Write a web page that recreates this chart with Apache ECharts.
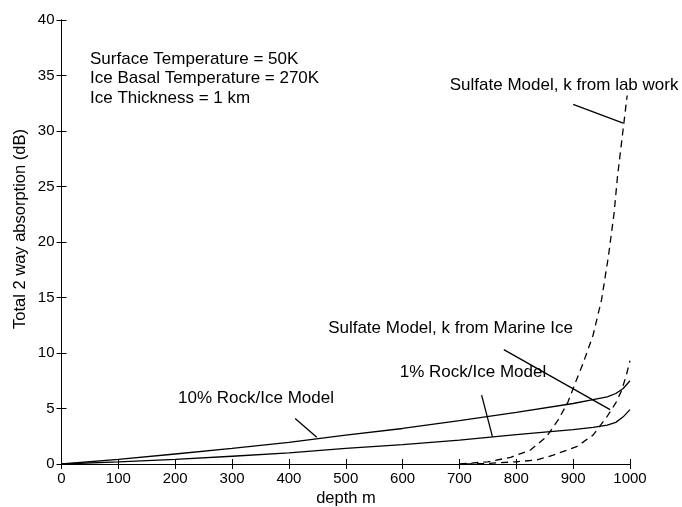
<!DOCTYPE html>
<html>
<head>
<meta charset="UTF-8">
<title>absorption</title>
<style>
html,body{margin:0;padding:0;background:#fff;}
#main{width:682px;height:507px;}
</style>
</head>
<body>
<div id="main"></div>
<script src="https://cdn.jsdelivr.net/npm/echarts@6/dist/echarts.min.js"></script>
<script>
// depth (m) and total 2 way absorption (dB)
var rockDepth = [0, 100, 200, 300, 400, 500, 600, 700, 800, 900, 935, 960, 975, 988, 1000];
var rock10 = [0, 0.42, 0.9, 1.4, 1.95, 2.6, 3.2, 3.9, 4.65, 5.45, 5.8, 6.05, 6.35, 6.8, 7.5];
var rock1 = [0, 0.2, 0.42, 0.7, 1.0, 1.4, 1.75, 2.15, 2.65, 3.1, 3.3, 3.5, 3.75, 4.25, 4.9];

var labDepth = [700, 750, 790, 825, 853, 874, 891, 906, 917, 935, 950, 962, 972, 978, 985, 995];
var labVal = [0, 0.2, 0.6, 1.26, 2.46, 4.0, 5.6, 7.6, 9.0, 11.6, 14.8, 18.7, 22.6, 25.9, 28.9, 33.2];

var marineDepth = [710, 750, 800, 836, 865, 906, 935, 960, 975, 985, 993, 1000];
var marineVal = [0, 0.05, 0.2, 0.36, 0.8, 1.56, 2.6, 4.3, 5.5, 6.6, 7.9, 9.3];

var infoLines = ['Surface Temperature = 50K', 'Ice Basal Temperature = 270K', 'Ice Thickness = 1 km'];

function pairs(xs, ys) {
	return xs.map(function (x, i) { return [x, ys[i]]; });
}

var FONT = '"Liberation Sans", Arial, Helvetica, sans-serif';
var myChart = echarts.init(document.getElementById('main'));

function pointer(a, b) {
	return {
		silent: true,
		symbol: 'none',
		animation: false,
		label: {show: false},
		lineStyle: {color: '#000', type: 'solid', width: 1.3},
		data: [[{coord: a}, {coord: b}]]
	};
}

function curve(name, data, dashed, mark) {
	return {
		name: name,
		type: 'line',
		data: data,
		showSymbol: false,
		symbol: 'none',
		smooth: false,
		animation: false,
		lineStyle: {color: '#000', width: 1.3, type: dashed ? [7, 5] : 'solid'},
		markLine: mark
	};
}

var tickAxis = {
	axisLine: {show: true, lineStyle: {color: '#000', width: 1}},
	axisTick: {show: true, inside: true, length: 5, lineStyle: {color: '#000'}},
	splitLine: {show: false}
};
var plain = function (v) { return String(v); };

myChart.setOption({
	backgroundColor: '#fff',
	textStyle: {fontFamily: FONT, color: '#000'},
	grid: {left: 61.5, right: 52, top: 20, bottom: 43},
	xAxis: [
		Object.assign({type: 'value', min: 0, max: 1000, interval: 100, position: 'bottom',
			axisLabel: {color: '#000', fontSize: 15, fontFamily: FONT, margin: 7, formatter: plain}}, tickAxis),
		Object.assign({type: 'value', min: 0, max: 1000, interval: 100, position: 'top',
			axisLabel: {show: false}}, tickAxis)
	],
	yAxis: [
		Object.assign({type: 'value', min: 0, max: 40, interval: 5, position: 'left',
			axisLabel: {color: '#000', fontSize: 15, fontFamily: FONT, margin: 7, formatter: plain}}, tickAxis),
		Object.assign({type: 'value', min: 0, max: 40, interval: 5, position: 'right',
			axisLabel: {show: false}}, tickAxis)
	],
	series: [
		curve('10% Rock/Ice Model', pairs(rockDepth, rock10), false, pointer([411, 4.1], [449, 2.4])),
		curve('1% Rock/Ice Model', pairs(rockDepth, rock1), false, pointer([739, 6.2], [758, 2.46])),
		curve('Sulfate Model, k from lab work', pairs(labDepth, labVal), true, pointer([900, 32.4], [988, 30.7])),
		curve('Sulfate Model, k from Marine Ice', pairs(marineDepth, marineVal), true, pointer([778, 10.3], [965, 4.9]))
	]
});

// annotation texts, anchored at their left edge in data coordinates
var notes = [
	{text: 'Sulfate Model, k from lab work', at: [683, 34.1]},
	{text: 'Sulfate Model, k from Marine Ice', at: [469, 12.2]},
	{text: '1% Rock/Ice Model', at: [595, 8.3]},
	{text: '10% Rock/Ice Model', at: [205, 5.95]}
];
var graphics = notes.map(function (n) {
	var p = myChart.convertToPixel({gridIndex: 0}, n.at);
	return {
		type: 'text', x: p[0], y: p[1], silent: true,
		style: {text: n.text, fill: '#000', font: '17px ' + FONT, textAlign: 'left', textVerticalAlign: 'middle'}
	};
});
infoLines.forEach(function (t, i) {
	graphics.push({
		type: 'text', x: 90, y: 59 + i * 19.5, silent: true,
		style: {text: t, fill: '#000', font: '17px ' + FONT, textAlign: 'left', textVerticalAlign: 'middle'}
	});
});
graphics.push({
	type: 'text', x: 346, y: 498, silent: true,
	style: {text: 'depth m', fill: '#000', font: '16.5px ' + FONT, textAlign: 'center', textVerticalAlign: 'middle'}
});
graphics.push({
	type: 'text', x: 20, y: 229, rotation: Math.PI / 2, silent: true,
	style: {text: 'Total 2 way absorption (dB)', fill: '#000', font: '16.5px ' + FONT, textAlign: 'center', textVerticalAlign: 'middle'}
});
myChart.setOption({graphic: graphics});
</script>
</body>
</html>
